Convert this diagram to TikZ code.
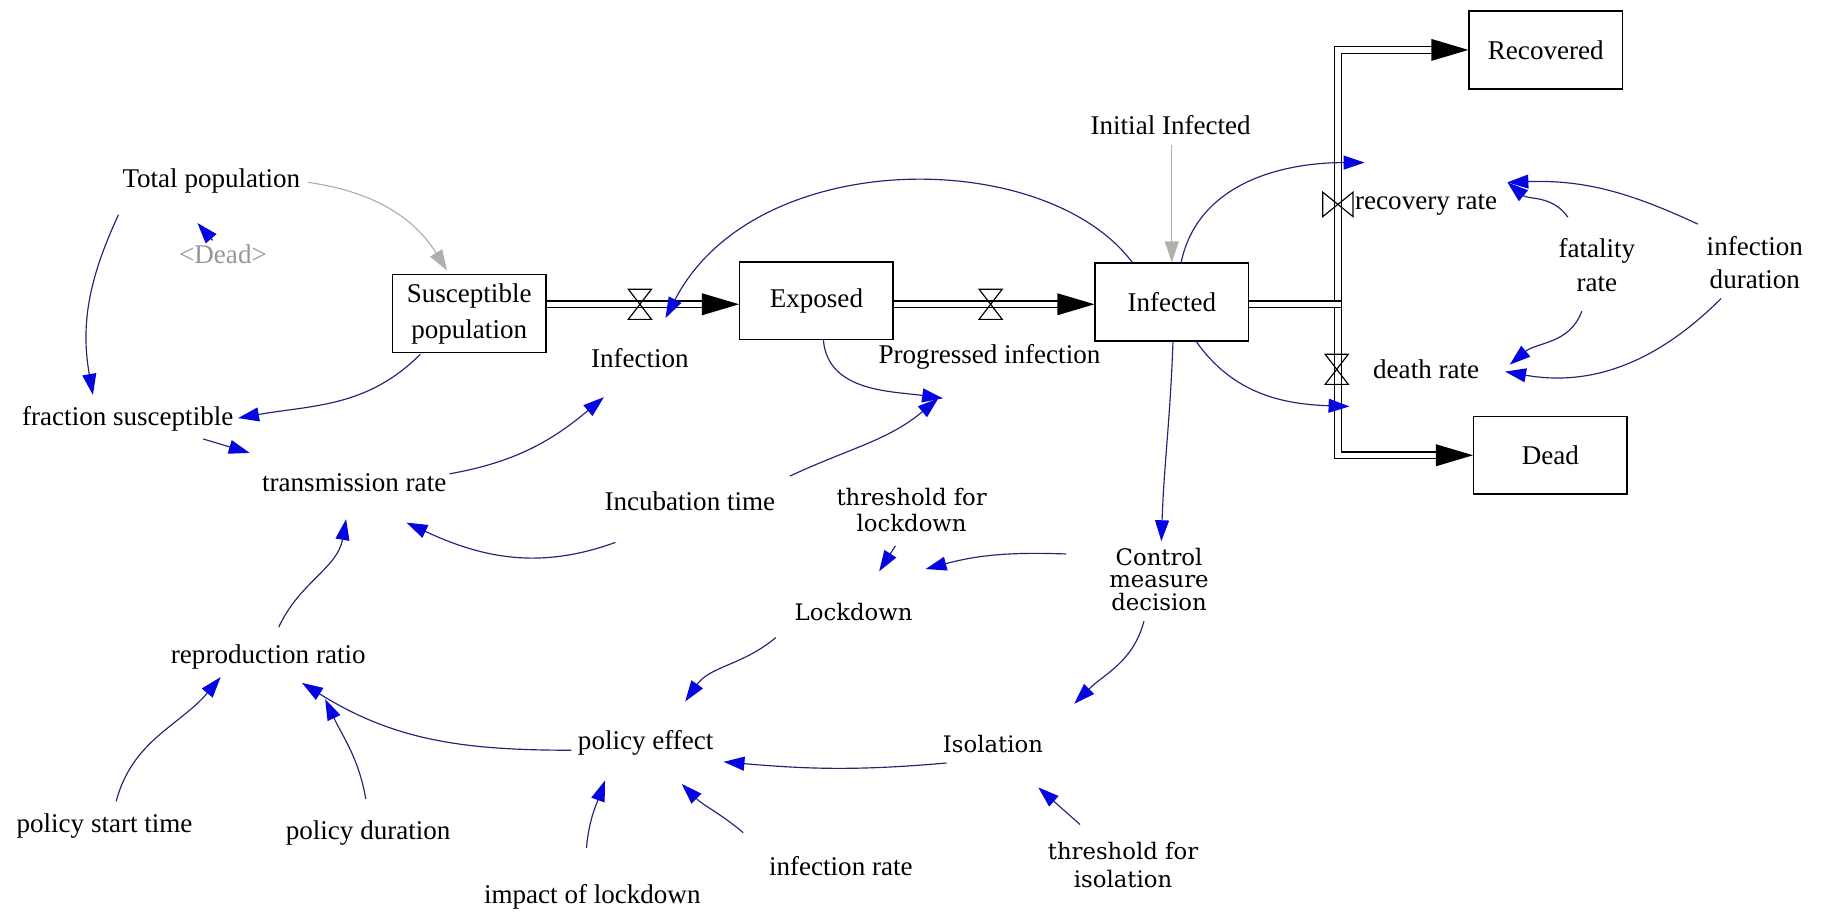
\documentclass[tikz,border=0pt]{standalone}
\usepackage{fontspec}
\setmainfont{Liberation Serif}
\newfontfamily\altserif{DejaVu Serif}
\usetikzlibrary{arrows.meta,calc}

\definecolor{linkline}{RGB}{35,35,120}
\definecolor{linktip}{RGB}{5,5,225}
\definecolor{ghost}{RGB}{175,175,175}
\definecolor{ghosttext}{RGB}{150,150,150}

\tikzset{
  hourglass/.pic={\draw[line width=0.5pt] (-10,13) -- (10,13) -- (-10,-13) -- (10,-13) -- cycle;},
  tallglass/.pic={\draw[line width=0.5pt] (-10,13) -- (10,13) -- (-10,-13) -- (10,-13) -- cycle;},
  bowtie/.pic={\draw[line width=0.5pt] (-13,10.5) -- (-13,-10.5) -- (13,10.5) -- (13,-10.5) -- cycle;},
}

\begin{document}
\begin{tikzpicture}[x=0.5pt,y=0.5pt,
  lbl/.style={inner sep=2pt, font=\fontsize{11.65pt}{14pt}\selectfont, align=center},
  alt/.style={inner sep=2pt, font=\altserif\fontsize{9.8pt}{9.6pt}\selectfont, align=center},
  stock/.style={draw, line width=0.6pt, fill=white, minimum width=66pt, minimum height=33.5pt,
                inner sep=0pt, align=center, font=\fontsize{11.65pt}{15.5pt}\selectfont},
  link/.style={draw=linkline, line width=0.5pt, -{Triangle[length=9pt,width=6pt,color=linktip]}},
  glink/.style={draw=ghost, line width=0.5pt, -{Triangle[length=9pt,width=6pt,color=ghost]}},
  pipe/.style={draw, double, double distance=2.3pt, line width=0.6pt},
  flowhead/.style={fill=black},
]
\useasboundingbox (0,0) rectangle (1568,-785);

% ---------- stocks, flows and variables ----------
\node[lbl] (tp) at (182,-156) {Total population};
\node[lbl, text=ghosttext] (dg) at (192,-219) {\textless Dead\textgreater};
\node[stock] (S) at (404,-270) {Susceptible\\population};
\coordinate (iv) at (551,-262);
\node[lbl] (ivl) at (551,-308) {Infection};
\node[stock] (E) at (703,-259) {Exposed};
\coordinate (pv) at (853,-262);
\node[lbl] (pvl) at (852,-307) {Progressed infection};
\node[stock] (I) at (1009,-260) {Infected};
\node[lbl] (ii) at (1008,-108) {Initial Infected};
\node[stock] (R) at (1331,-43) {Recovered};
\node[stock] (D) at (1335,-392) {Dead};
\coordinate (j) at (1152,-262);
\coordinate (rv) at (1152,-176);
\node[lbl] (rr) at (1228,-176) {recovery rate};
\coordinate (dv) at (1151,-318);
\node[lbl] (dr) at (1228,-318) {death rate};
\node[lbl, font=\fontsize{11.65pt}{14.5pt}\selectfont] (fr) at (1375,-228) {fatality\\rate};
\node[lbl, font=\fontsize{11.65pt}{14pt}\selectfont] (idur) at (1511,-226) {infection\\duration};
\node[lbl] (fs) at (110,-361) {fraction susceptible};
\node[lbl] (tr) at (305,-416) {transmission rate};
\node[lbl] (it) at (594,-432) {Incubation time};
\node[alt, font=\altserif\fontsize{9.8pt}{11pt}\selectfont] (tl) at (785,-439) {threshold for\\lockdown};
\node[alt] (cmd) at (998,-499) {Control\\measure\\decision};
\node[alt] (ld) at (735,-527) {Lockdown};
\node[alt] (iso) at (855,-641) {Isolation};
\node[alt, font=\altserif\fontsize{9.8pt}{12pt}\selectfont] (ti) at (967,-745) {threshold for\\isolation};
\node[lbl] (rr2) at (231,-566) {reproduction ratio};
\node[lbl] (pe) at (556,-640) {policy effect};
\node[lbl] (pst) at (90,-711) {policy start time};
\node[lbl] (pd) at (317,-717) {policy duration};
\node[lbl] (il) at (510,-772) {impact of lockdown};
\node[lbl] (ir) at (724,-746) {infection rate};

% ---------- material flows (pipes) ----------
\draw[pipe, shorten >=15pt] (S.east |- iv) -- (E.west |- iv);
\fill[flowhead] (E.west |- iv) -- ++(-32,9.5) -- ++(0,-19) -- cycle;
\draw[pipe, shorten >=15pt] (E.east |- pv) -- (I.west |- pv);
\fill[flowhead] (I.west |- pv) -- ++(-32,9.5) -- ++(0,-19) -- cycle;
\draw[pipe, shorten <=15pt, shorten >=15pt] (R.west) -| (j) |- (D.west);
\fill[flowhead] (R.west) -- ++(-32,9.5) -- ++(0,-19) -- cycle;
\fill[flowhead] (D.west) -- ++(-32,9.5) -- ++(0,-19) -- cycle;
\draw[pipe] (I.east |- j) -- ([xshift=1.5pt]j);

% valves
\pic at (iv) {hourglass};
\pic at (pv) {hourglass};
\pic at (rv) {bowtie};
\pic at (dv) {tallglass};

% ---------- information links ----------
\draw[link] ([shift={(-80,-29)}]tp.center) to[out=-115,in=100] ([shift={(-30,21)}]fs.center);
\draw[link] ([shift={(-9,12)}]dg.center) -- ([shift={(-12,-36)}]tp.center);
\draw[glink] ([shift={(83,-1)}]tp.center) to[out=-8,in=122] ([shift={(-19,37)}]S.center);
\draw[link] ([shift={(-42,-35)}]S.center) to[out=-135,in=10] ([shift={(95,1)}]fs.center);
\draw[link] ([shift={(65,-17)}]fs.center) -- ([shift={(-90,26)}]tr.center);
\draw[link] ([shift={(82,8)}]tr.center) to[out=10,in=-140] ([shift={(-31,-80)}]iv);
\draw[link] ([shift={(-34,34)}]I.center) .. controls +(-75,100) and +(77,149) .. ([shift={(22,-12)}]iv);
\draw[link] ([shift={(6,-34)}]E.center) to[out=-85,in=172] ([shift={(-40,-36)}]pvl.center);
\draw[link] ([shift={(86,22)}]it.center) to[out=25,in=-140] ([shift={(-44,-36)}]pvl.center);
\draw[link] ([shift={(-64,-35)}]it.center) to[out=-160,in=-25] ([shift={(45,-34)}]tr.center);
\draw[link] ([shift={(8,34)}]I.center) to[out=78,in=180] ([shift={(23,36)}]rv);
\draw[link] ([shift={(21,-34)}]I.center) to[out=-55,in=178] ([shift={(11,-32)}]dv);
\draw[link] ([shift={(1,-34)}]I.center) to[out=-92,in=88] ([shift={(2,33)}]cmd.center);
\draw[glink] ([shift={(1,-17)}]ii.center) -- (I.north);
\draw[link] ([shift={(-25,41)}]fr.center) to[out=125,in=-40] ([shift={(70,19)}]rr.center);
\draw[link] ([shift={(-49,33)}]idur.center) to[out=155,in=2] ([shift={(70,19)}]rr.center);
\draw[link] ([shift={(-13,-40)}]fr.center) to[out=-110,in=40] ([shift={(72,4)}]dr.center);
\draw[link] ([shift={(-29,-31)}]idur.center) to[out=-135,in=-10] ([shift={(68,-2)}]dr.center);
\draw[link] ([shift={(-80,22)}]cmd.center) to[out=178,in=15] ([shift={(62,37)}]ld.center);
\draw[link] ([shift={(-14,-31)}]tl.center) -- ([shift={(22,35)}]ld.center);
\draw[link] ([shift={(-13,-36)}]cmd.center) to[out=-105,in=45] ([shift={(70,35)}]iso.center);
\draw[link] ([shift={(-67,-22)}]ld.center) to[out=-140,in=55] ([shift={(34,36)}]pe.center);
\draw[link] ([shift={(-40,-16)}]iso.center) to[out=185,in=-5] ([shift={(67,-16)}]pe.center);
\draw[link] ([shift={(-37,35)}]ti.center) -- ([shift={(39,-37)}]iso.center);
\draw[link] ([shift={(-84,29)}]ir.center) to[out=140,in=-45] ([shift={(31,-35)}]pe.center);
\draw[link] ([shift={(-5,42)}]il.center) to[out=85,in=-110] ([shift={(-35,-32)}]pe.center);
\draw[link] ([shift={(-64,-6)}]pe.center) to[out=180,in=-32] ([shift={(29,-22)}]rr2.center);
\draw[link] ([shift={(-2,29)}]pd.center) to[out=100,in=-65] ([shift={(49,-36)}]rr2.center);
\draw[link] ([shift={(10,21)}]pst.center) to[out=75,in=-130] ([shift={(-41,-17)}]rr2.center);
\draw[link] ([shift={(9,26)}]rr2.center) to[out=65,in=-100] ([shift={(-7,-31)}]tr.center);
\end{tikzpicture}
\end{document}
